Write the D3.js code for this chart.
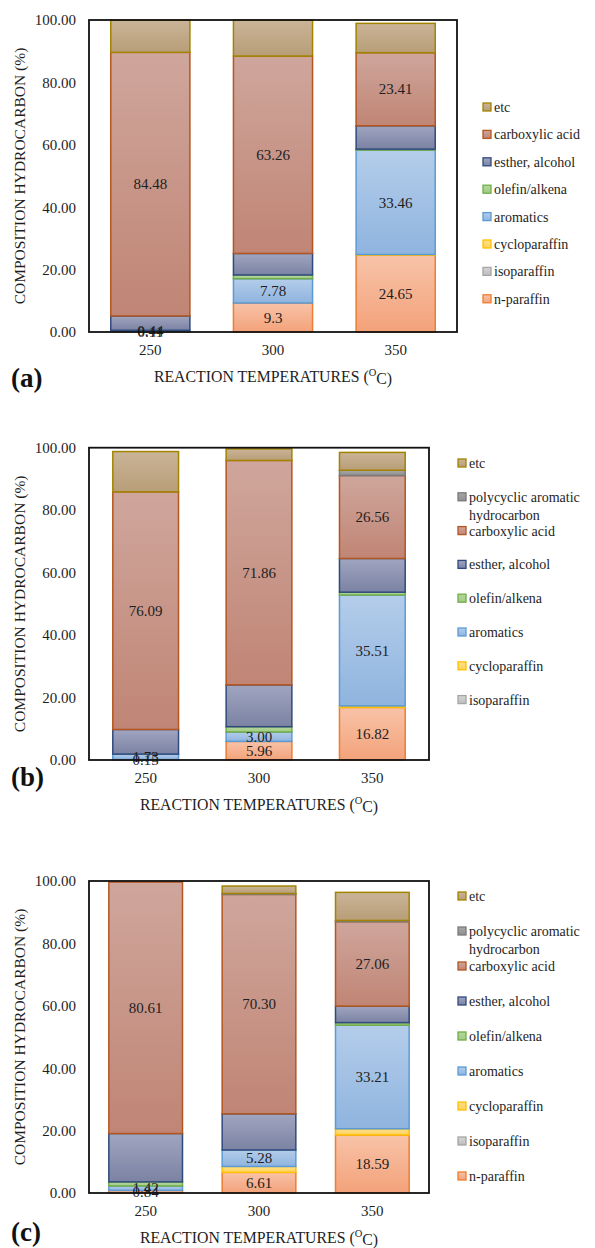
<!DOCTYPE html>
<html><head><meta charset="utf-8">
<script src="https://cdn.jsdelivr.net/npm/d3@7/dist/d3.min.js"></script>
<style>body{margin:0;background:#fff}svg{display:block}
svg text{font-family:"Liberation Serif","Times New Roman",Times,serif;}
</style>
</head><body><svg id="chart" width="595" height="1248"></svg>
<script>
const categories = ["250", "300", "350"];
const seriesNames = ["n-paraffin","isoparaffin","cycloparaffin","aromatics","olefin/alkena","esther, alcohol","carboxylic acid","polycyclic aromatic hydrocarbon","etc"];
const yTicks = [0, 20, 40, 60, 80, 100];
const labelledSeries = ["n-paraffin", "aromatics", "carboxylic acid"];

// panel (a)
const nParaffinA = [0.11, 9.3, 24.65];
const isoParaffinA = [0, 0, 0];
const cycloParaffinA = [0, 0, 0.2];
const aromaticsA = [0.44, 7.78, 33.46];
const olefinA = [0, 1.2, 0.3];
const estherA = [4.6, 6.9, 7.5];
const carboxylicA = [84.48, 63.26, 23.41];
const etcA = [10.3, 11.5, 9.4];
// panel (b)
const nParaffinB = [0.15, 5.96, 16.82];
const isoParaffinB = [0, 0, 0];
const cycloParaffinB = [0, 0, 0.5];
const aromaticsB = [1.73, 3.00, 35.51];
const olefinB = [0, 1.7, 0.9];
const estherB = [7.9, 13.4, 10.8];
const carboxylicB = [76.09, 71.86, 26.56];
const pahB = [0, 0, 1.7];
const etcB = [12.9, 3.7, 5.7];
// panel (c)
const nParaffinC = [0.84, 6.61, 18.59];
const isoParaffinC = [0, 0, 0];
const cycloParaffinC = [0, 1.9, 2.0];
const aromaticsC = [1.42, 5.28, 33.21];
const olefinC = [1.3, 0, 0.8];
const estherC = [15.5, 11.6, 5.3];
const carboxylicC = [80.61, 70.30, 27.06];
const pahC = [0, 0.3, 0.4];
const etcC = [0, 2.4, 9.0];

const legendA = ["etc","carboxylic acid","esther, alcohol","olefin/alkena","aromatics","cycloparaffin","isoparaffin","n-paraffin"];
const legendB = ["etc","polycyclic aromatic hydrocarbon","carboxylic acid","esther, alcohol","olefin/alkena","aromatics","cycloparaffin","isoparaffin"];
const legendC = ["etc","polycyclic aromatic hydrocarbon","carboxylic acid","esther, alcohol","olefin/alkena","aromatics","cycloparaffin","isoparaffin","n-paraffin"];

const styles = {
  "n-paraffin":       {top:"#f8c3a8", bot:"#f3a27a", stroke:"#ed7d31"},
  "isoparaffin":      {top:"#d6d6d6", bot:"#bdbdbd", stroke:"#a5a5a5"},
  "cycloparaffin":    {top:"#ffe08a", bot:"#ffd25a", stroke:"#ffc000"},
  "aromatics":        {top:"#b4cdea", bot:"#8fb4df", stroke:"#5b9bd5"},
  "olefin/alkena":    {top:"#b6d79e", bot:"#a0cb84", stroke:"#70ad47"},
  "esther, alcohol":  {top:"#a0a6c0", bot:"#7b82a3", stroke:"#2f4b7c"},
  "carboxylic acid":  {top:"#cfa69c", bot:"#c08575", stroke:"#b4561f"},
  "polycyclic aromatic hydrocarbon": {top:"#a8a8a8", bot:"#8f8f8f", stroke:"#7a7a7a"},
  "etc":              {top:"#cab498", bot:"#b89e78", stroke:"#a38300"}
};

const panels = [
  {letter:"(a)", data:{"n-paraffin":nParaffinA,"isoparaffin":isoParaffinA,"cycloparaffin":cycloParaffinA,"aromatics":aromaticsA,"olefin/alkena":olefinA,"esther, alcohol":estherA,"carboxylic acid":carboxylicA,"etc":etcA},
   fmt: v => String(v), legend:legendA,
   left:89, right:457, top:20, bottom:332, pad:0.355, lx:483, ly:107, lstep:27.4, letterY:378},
  {letter:"(b)", data:{"n-paraffin":nParaffinB,"isoparaffin":isoParaffinB,"cycloparaffin":cycloParaffinB,"aromatics":aromaticsB,"olefin/alkena":olefinB,"esther, alcohol":estherB,"carboxylic acid":carboxylicB,"polycyclic aromatic hydrocarbon":pahB,"etc":etcB},
   fmt: v => v.toFixed(2), legend:legendB,
   left:89, right:429, top:447.7, bottom:760, pad:0.42, lx:458, ly:463, lstep:33.8, letterY:777},
  {letter:"(c)", data:{"n-paraffin":nParaffinC,"isoparaffin":isoParaffinC,"cycloparaffin":cycloParaffinC,"aromatics":aromaticsC,"olefin/alkena":olefinC,"esther, alcohol":estherC,"carboxylic acid":carboxylicC,"polycyclic aromatic hydrocarbon":pahC,"etc":etcC},
   fmt: v => v.toFixed(2), legend:legendC,
   left:89, right:429, top:881, bottom:1193, pad:0.35, lx:458, ly:896, lstep:35, letterY:1232}
];

const svg = d3.select("#chart");
const FONT = '"Liberation Serif","Times New Roman",Times,serif';
const defs = svg.append("defs");
Object.entries(styles).forEach(([k, s], i) => {
  const g = defs.append("linearGradient").attr("id", "g" + i).attr("x1", 0).attr("y1", 0).attr("x2", 0).attr("y2", 1);
  g.append("stop").attr("offset", "0%").attr("stop-color", s.top);
  g.append("stop").attr("offset", "100%").attr("stop-color", s.bot);
  s.grad = "url(#g" + i + ")";
});

function txt(sel, size) {
  return sel.style("font-family", FONT).style("font-size", size + "px").attr("fill", "#1e1e1e");
}

panels.forEach(p => {
  const g = svg.append("g");
  const keys = seriesNames.filter(k => p.data[k]);
  const rows = categories.map((c, i) => { const r = {cat:c}; keys.forEach(k => r[k] = p.data[k][i]); return r; });
  const stacked = d3.stack().keys(keys)(rows);
  const x = d3.scaleBand().domain(categories).range([p.left, p.right]).paddingInner(p.pad).paddingOuter(p.pad / 2);
  const y = d3.scaleLinear().domain([0, 100]).range([p.bottom, p.top]);

  stacked.forEach(layer => {
    const st = styles[layer.key];
    g.append("g").selectAll("rect").data(layer.filter(d => d[1] - d[0] > 0)).join("rect")
      .attr("x", d => x(d.data.cat)).attr("width", x.bandwidth())
      .attr("y", d => y(d[1])).attr("height", d => y(d[0]) - y(d[1]))
      .attr("fill", st.grad).attr("stroke", st.stroke).attr("stroke-width", 1.5);
  });
  stacked.filter(l => labelledSeries.includes(l.key)).forEach(layer => {
    txt(g.append("g").selectAll("text").data(layer.filter(d => d[1] - d[0] > 0)).join("text")
      .attr("x", d => x(d.data.cat) + x.bandwidth() / 2)
      .attr("y", d => y((d[0] + d[1]) / 2))
      .attr("dy", "0.35em").attr("text-anchor", "middle"), 15)
      .text(d => p.fmt(d.data[layer.key]));
  });

  g.append("rect").attr("x", p.left).attr("y", p.top).attr("width", p.right - p.left).attr("height", p.bottom - p.top)
    .attr("fill", "none").attr("stroke", "#111").attr("stroke-width", 1.8);

  const ya = g.append("g").attr("transform", `translate(${p.left},0)`)
    .call(d3.axisLeft(y).tickValues(yTicks).tickFormat(d3.format(".2f")).tickSize(0).tickPadding(13));
  ya.select(".domain").remove();
  txt(ya.selectAll("text"), 15);

  const xa = g.append("g").attr("transform", `translate(0,${p.bottom})`)
    .call(d3.axisBottom(x).tickSize(0).tickPadding(12));
  xa.select(".domain").remove();
  txt(xa.selectAll("text"), 15);

  const xt = txt(g.append("text").attr("x", (p.left + p.right) / 2).attr("y", p.bottom + 44).attr("dy", "0.35em")
    .attr("text-anchor", "middle"), 15.8);
  xt.append("tspan").text("REACTION TEMPERATURES (");
  xt.append("tspan").style("font-size", "10.5px").attr("dy", "-0.5em").text("O");
  xt.append("tspan").attr("dy", "0.5em").text("C)");

  txt(g.append("text").attr("transform", `translate(20,${(p.top + p.bottom) / 2}) rotate(-90)`).attr("dy", "0.35em")
    .attr("text-anchor", "middle"), 15.5)
    .text("COMPOSITION HYDROCARBON (%)");

  txt(g.append("text").attr("x", 11).attr("y", p.letterY).attr("dy", "0.35em").style("font-weight", "bold"), 27)
    .attr("fill", "#111").text(p.letter);

  const lg = g.append("g");
  p.legend.forEach((k, i) => {
    const st = styles[k];
    const yy = p.ly + i * p.lstep;
    lg.append("rect").attr("x", p.lx).attr("y", yy - 4).attr("width", 8).attr("height", 8)
      .attr("fill", st.grad).attr("stroke", st.stroke).attr("stroke-width", 1.3);
    const t = txt(lg.append("text").attr("x", p.lx + 11).attr("y", yy).attr("dy", "0.35em"), 14);
    if (k === "polycyclic aromatic hydrocarbon") {
      t.append("tspan").text("polycyclic aromatic");
      t.append("tspan").attr("x", p.lx + 11).attr("dy", "1.3em").text("hydrocarbon");
    } else t.text(k);
  });
});
</script></body></html>
